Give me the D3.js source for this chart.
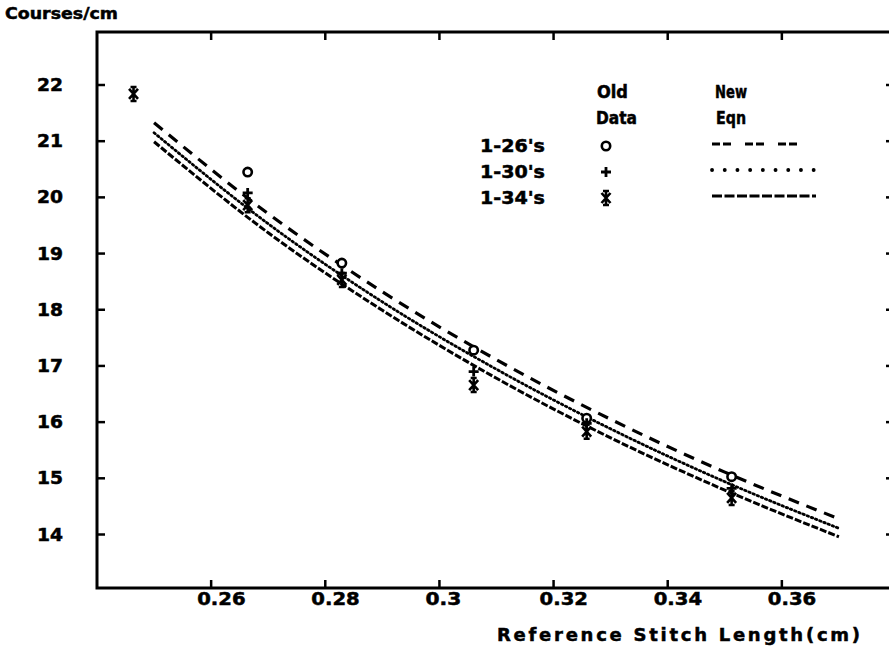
<!DOCTYPE html>
<html>
<head>
<meta charset="utf-8">
<script src="https://cdn.jsdelivr.net/npm/d3@7"></script>
<style>
  html, body { margin: 0; padding: 0; background: #fff; }
  svg { display: block; }
  text { font-family: "DejaVu Sans", sans-serif; font-weight: bold; fill: #000;
         stroke: #000; stroke-width: 0.5; }
</style>
</head>
<body>
<svg id="chart" width="889" height="650"></svg>
<script>
// Measured stitch lengths (cm) and courses per cm for the old data sets
const oldX     = [0.2464, 0.2664, 0.2829, 0.3060, 0.3258, 0.3512];
const old126   = [null,   20.45,  18.83,  17.28,  16.07,  15.03];
const old130   = [null,   20.08,  18.65,  16.90,  15.98,  14.82];
const old134   = [21.84,  19.86,  18.53,  16.66,  15.83,  14.65];

// New equation curves, sampled along the stitch length range
const eqnX     = [0.25,  0.27,  0.29,  0.31,  0.33,  0.35,  0.37];
const eqn126   = [21.33, 19.71, 18.32, 17.11, 16.05, 15.11, 14.28];
const eqn130   = [21.15, 19.53, 18.14, 16.94, 15.88, 14.94, 14.11];
const eqn134   = [20.99, 19.37, 17.99, 16.78, 15.72, 14.79, 13.96];

const xTicks = [0.26, 0.28, 0.30, 0.32, 0.34, 0.36];
const xTickLabels = ["0.26", "0.28", "0.3", "0.32", "0.34", "0.36"];
const yTicks = [14, 15, 16, 17, 18, 19, 20, 21, 22];

const seriesNames = ["1-26's", "1-30's", "1-34's"];

const svg = d3.select("#chart");

const frame = { left: 97, right: 896, top: 32, bottom: 588 };
const x = d3.scaleLinear().domain([0.24, 0.38]).range([frame.left, frame.right]);
const y = d3.scaleLinear().domain([14, 22]).range([534.5, 85]);

// Plot frame
svg.append("rect")
  .attr("x", frame.left).attr("y", frame.top)
  .attr("width", frame.right - frame.left).attr("height", frame.bottom - frame.top)
  .attr("fill", "none").attr("stroke", "#000").attr("stroke-width", 3);

// Inward ticks on all four sides
const tickLen = 8;
const gTicks = svg.append("g").attr("stroke", "#000").attr("stroke-width", 2.5);
xTicks.forEach(v => {
  gTicks.append("line").attr("x1", x(v)).attr("x2", x(v))
    .attr("y1", frame.bottom).attr("y2", frame.bottom - tickLen);
  gTicks.append("line").attr("x1", x(v)).attr("x2", x(v))
    .attr("y1", frame.top).attr("y2", frame.top + tickLen);
});
yTicks.forEach(v => {
  gTicks.append("line").attr("x1", frame.left).attr("x2", frame.left + tickLen)
    .attr("y1", y(v)).attr("y2", y(v));
  gTicks.append("line").attr("x1", frame.right).attr("x2", frame.right - tickLen - 2)
    .attr("y1", y(v)).attr("y2", y(v));
});

// Tick labels
svg.append("g").selectAll("text").data(xTicks).join("text")
  .attr("x", d => x(d) - 14).attr("y", 605)
  .attr("font-size", 17)
  .attr("textLength", (d, i) => xTickLabels[i].length * 12.6 - 2)
  .attr("lengthAdjust", "spacingAndGlyphs")
  .text((d, i) => xTickLabels[i]);

svg.append("g").selectAll("text").data(yTicks).join("text")
  .attr("x", 63).attr("y", d => y(d) + 6)
  .attr("text-anchor", "end")
  .attr("font-size", 17)
  .attr("textLength", 26).attr("lengthAdjust", "spacingAndGlyphs")
  .text(d => d);

// Axis titles
svg.append("text").attr("x", 5).attr("y", 19)
  .attr("font-size", 16)
  .attr("textLength", 113).attr("lengthAdjust", "spacingAndGlyphs")
  .text("Courses/cm");

svg.append("text").attr("x", 497).attr("y", 641)
  .attr("font-size", 18)
  .attr("textLength", 363).attr("lengthAdjust", "spacing")
  .text("Reference Stitch Length(cm)");

// Equation curves
const lineStyles = [
  { dash: "11,8",  width: 3.2, cap: "butt" },
  { dash: "1.5,3", width: 2.8, cap: "round" },
  { dash: "7,2",   width: 3.0, cap: "butt" }
];
const eqnSeries = [eqn126, eqn130, eqn134];
const line = d3.line()
  .x(d => x(d[0])).y(d => y(d[1]))
  .curve(d3.curveMonotoneX);

eqnSeries.forEach((vals, i) => {
  svg.append("path")
    .datum(eqnX.map((v, j) => [v, vals[j]]))
    .attr("d", line)
    .attr("fill", "none").attr("stroke", "#000")
    .attr("stroke-width", lineStyles[i].width)
    .attr("stroke-dasharray", lineStyles[i].dash)
    .attr("stroke-linecap", lineStyles[i].cap);
});

// Marker shapes: circle, plus, asterisk
function drawMarker(g, kind, cx, cy) {
  if (kind === 0) {
    g.append("circle").attr("cx", cx).attr("cy", cy).attr("r", 4.2)
      .attr("fill", "#fff").attr("stroke", "#000").attr("stroke-width", 2.6);
  } else if (kind === 1) {
    g.append("path")
      .attr("d", `M${cx - 5},${cy}H${cx + 5}M${cx},${cy - 5}V${cy + 5}`)
      .attr("stroke", "#000").attr("stroke-width", 2.8).attr("fill", "none");
  } else {
    g.append("path")
      .attr("d", `M${cx},${cy - 7}V${cy + 7}` +
                 `M${cx - 4.5},${cy - 5}L${cx + 4.5},${cy + 5}` +
                 `M${cx + 4.5},${cy - 5}L${cx - 4.5},${cy + 5}` +
                 `M${cx - 3},${cy - 7}H${cx + 3}M${cx - 3},${cy + 7}H${cx + 3}`)
      .attr("stroke", "#000").attr("stroke-width", 2.6).attr("fill", "none");
  }
}

const oldSeries = [old126, old130, old134];
const gPts = svg.append("g");
oldSeries.forEach((vals, k) => {
  vals.forEach((v, j) => {
    if (v != null) drawMarker(gPts, k, x(oldX[j]), y(v));
  });
});

// Legend
const lg = svg.append("g");
const heads = [
  { t: "Old",  x: 597, y: 98,  w: 31 },
  { t: "Data", x: 596, y: 124, w: 41 },
  { t: "New",  x: 715, y: 98,  w: 32 },
  { t: "Eqn",  x: 716, y: 124, w: 30 }
];
heads.forEach(h => {
  lg.append("text").attr("x", h.x).attr("y", h.y).attr("font-size", 17)
    .attr("textLength", h.w).attr("lengthAdjust", "spacingAndGlyphs").text(h.t);
});

const legendSamples = [
  { dash: "8,3,8,14", width: 3,   cap: "butt",  x2: 810 },
  { dash: "0.1,12.6", width: 3.8, cap: "round", x2: 816 },
  { dash: "10,2.5",   width: 3,   cap: "butt",  x2: 816 }
];
seriesNames.forEach((name, i) => {
  const ry = 146 + i * 26;
  lg.append("text").attr("x", 480).attr("y", ry + 6).attr("font-size", 17)
    .attr("textLength", 65).attr("lengthAdjust", "spacingAndGlyphs").text(name);
  drawMarker(lg, i, 606, ry);
  lg.append("line").attr("x1", 712).attr("x2", legendSamples[i].x2)
    .attr("y1", ry - 2).attr("y2", ry - 2)
    .attr("stroke", "#000")
    .attr("stroke-width", legendSamples[i].width)
    .attr("stroke-dasharray", legendSamples[i].dash)
    .attr("stroke-linecap", legendSamples[i].cap);
});
</script>
</body>
</html>
